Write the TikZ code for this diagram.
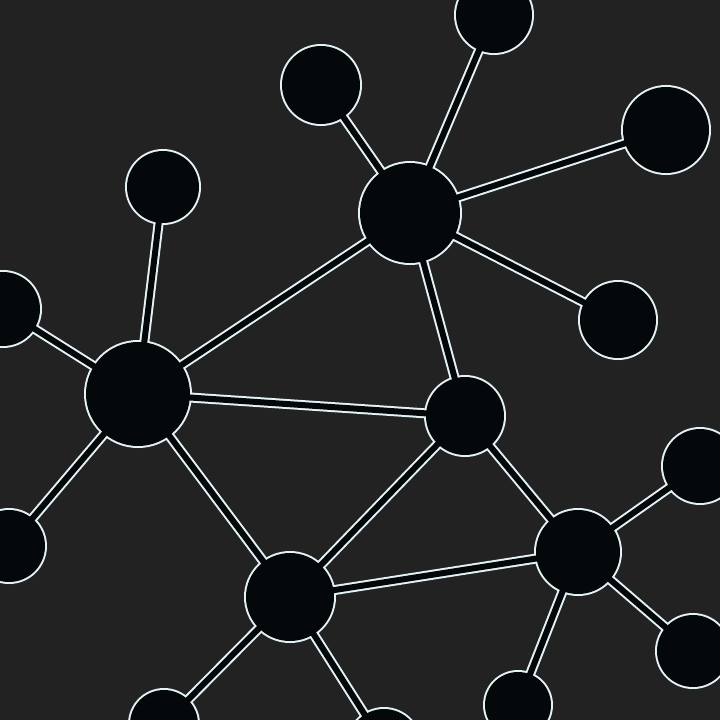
\documentclass[tikz,border=0pt]{standalone}
\definecolor{bg}{RGB}{34,34,34}
\definecolor{hub}{RGB}{4,8,10}
\definecolor{rim}{RGB}{228,242,246}
\tikzset{
  rimline/.style={draw=rim,line width=10pt},
  coreline/.style={draw=hub,line width=6pt},
  rimdisc/.style={fill=rim},
  hubdisc/.style={circle,fill=hub,inner sep=0pt,draw=none}
}
\begin{document}
\begin{tikzpicture}[x=1pt,y=-1pt]
\fill[bg] (0,0) rectangle (720,720);
\useasboundingbox (0,0) rectangle (720,720);
\clip (0,0) rectangle (720,720);
% centres
\foreach \n/\x/\y in {A/410/213,B/138/394,C/465/416,D/290/597,E/578/552,
  A1/321/85,A2/494/15,A3/666/130,A4/618/320,
  B1/163/187,B2/3/309,B3/9/546,
  E1/700/466,E2/693/651,E3/518/705,
  D1/164/724,D2/384/745}
  {\coordinate (\n) at (\x,\y);}
\def\edges{A/A1,A/A2,A/A3,A/A4,A/B,A/C,B/B1,B/B2,B/B3,B/C,B/D,C/D,C/E,D/E,D/D1,D/D2,E/E1,E/E2,E/E3}
\def\discs{A/52,B/54,C/41,D/46,E/44,A1/41,A2/40,A3/45,A4/40,B1/38,B2/39,B3/38,E1/39,E2/38,E3/35,D1/36,D2/38}
% white rims
\foreach \a/\b in \edges {\draw[rimline] (\a) -- (\b);}
\foreach \n/\r in \discs {\fill[rimdisc] (\n) circle ({\r*1pt});}
% dark cores
\foreach \a/\b in \edges {\draw[coreline] (\a) -- (\b);}
\foreach \n/\r in \discs {\node[hubdisc,minimum size={(2*\r-4)*1pt}] (n\n) at (\n) {};}
\end{tikzpicture}
\end{document}
